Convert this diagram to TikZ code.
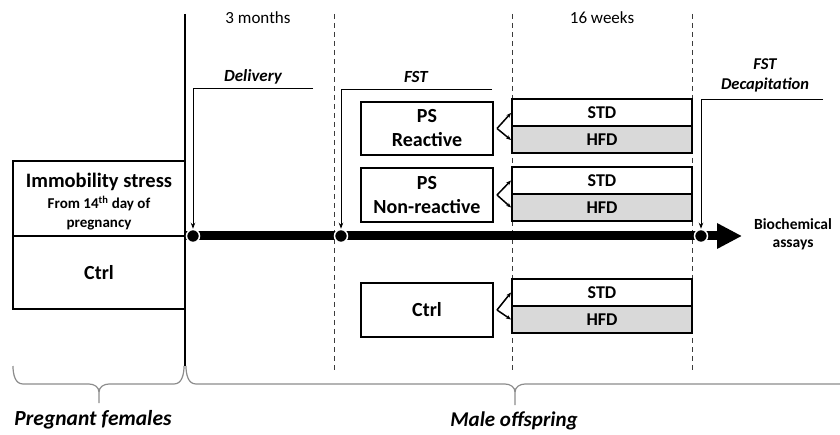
\documentclass[tikz,border=0pt]{standalone}
\usepackage{fontspec}
\setmainfont{Carlito}
\usetikzlibrary{arrows.meta,calc}
\definecolor{hfdgray}{RGB}{217,217,217}
\definecolor{dashgray}{RGB}{60,60,60}
\definecolor{bracegray}{RGB}{140,140,140}
\begin{document}
\begin{tikzpicture}[x=1pt,y=-1pt,
  box/.style={draw, line width=2pt, minimum width=132pt, minimum height=53pt, inner sep=0pt, align=center, font=\bfseries\fontsize{20}{24}\selectfont},
  diet/.style={draw, line width=2pt, minimum width=180pt, minimum height=27pt, inner sep=0pt, font=\bfseries\fontsize{18}{20}\selectfont},
  hfd/.style={diet, fill=hfdgray},
  lbl/.style={inner sep=0pt, font=\bfseries\itshape\fontsize{17}{20}\selectfont},
  bigl/.style={inner sep=0pt, font=\bfseries\itshape\fontsize{21.5}{24}\selectfont},
  period/.style={inner sep=0pt, font=\fontsize{17}{20}\selectfont},
  dot/.style={circle, fill=black, draw=white, line width=1.5pt, minimum size=13pt, inner sep=0pt},
  guide/.style={draw=dashgray, line width=1pt, dash pattern=on 5pt off 4pt},
  pointer/.style={line width=1pt, -{Stealth[length=6pt,width=4.5pt]}},
  branch/.style={line width=1.5pt, -{Stealth[length=5pt,width=4pt]}},
  brace/.style={draw=bracegray, line width=1.2pt},
]
\useasboundingbox (0,0) rectangle (840,435);

% guides
\coordinate (g1t) at (334,14); \coordinate (g1b) at (334,373);
\coordinate (g2t) at (512,14); \coordinate (g2b) at (512,373);
\coordinate (g3t) at (692,14); \coordinate (g3b) at (692,373);
\draw[guide] (g1t) -- (g1b);
\draw[guide] (g2t) -- (g2b);
\draw[guide] (g3t) -- (g3b);
\coordinate (vt) at (185,14); \coordinate (vb) at (185,366);
\draw[line width=1.2pt] (vt) -- (vb);

% period labels
\node[period] (m3) at (258,18) {3 months};
\node[period] (w16) at (602,18) {16 weeks};

% pregnant female boxes
\node[draw, line width=2pt, minimum width=172pt, minimum height=75pt, inner sep=0pt] (stress) at (99,198.5) {};
\node[draw, line width=2pt, minimum width=172pt, minimum height=73pt, inner sep=0pt, font=\bfseries\fontsize{20}{24}\selectfont] (ctrlA) at (99,272.5) {Ctrl};
\node[inner sep=0pt, font=\bfseries\fontsize{20.5}{24}\selectfont] (stresst) at (99,182) {Immobility stress};
\node[inner sep=0pt, align=center, font=\bfseries\fontsize{15}{19}\selectfont] (stresss) at (99,213) {From 14\textsuperscript{th} day of\\pregnancy};

% timeline
\coordinate (tl0) at (185,236);
\coordinate (tl1) at (742,236);
\draw[line width=9pt, -{Triangle[length=25pt,width=24pt]}] (tl0) -- (tl1);
\node[dot] (c1) at (193,236) {};
\node[dot] (c2) at (341,236) {};
\node[dot] (c3) at (701,236) {};

% event pointers
\coordinate (dlv) at (313,89);
\coordinate (fst) at (492,90);
\coordinate (dec) at (823,100);
\draw[pointer] (dlv) -| (c1.north);
\draw[pointer] (fst) -| (c2.north);
\draw[pointer] (dec) -| (c3.north);
\node[lbl] (dlvl) at (253,77) {Delivery};
\node[lbl] (fstl) at (416,77) {FST};
\node[lbl, align=center, font=\bfseries\itshape\fontsize{16.5}{20}\selectfont] (decl) at (765,75) {FST\\Decapitation};
\node[inner sep=0pt, align=center, font=\bfseries\fontsize{15.5}{18}\selectfont] (bio) at (793,234) {Biochemical\\assays};

% offspring groups
\node[box] (psr) at (427,128.5) {PS\\Reactive};
\node[box, minimum height=54pt] (psn) at (427,195) {PS\\Non-reactive};
\node[box, minimum height=54pt] (ctrlB) at (427,310) {Ctrl};

\node[diet] (std1) at (602,113) {STD};
\node[hfd] (hfd1) at (602,140) {HFD};
\node[diet] (std2) at (602,180.5) {STD};
\node[hfd] (hfd2) at (602,207.5) {HFD};
\node[diet] (std3) at (602,292.5) {STD};
\node[hfd] (hfd3) at (602,319.5) {HFD};

\draw[branch] ([xshift=3pt]psr.east) -- (std1.west);
\draw[branch] ([xshift=3pt]psr.east) -- (hfd1.west);
\draw[branch] ([xshift=3pt]psn.east) -- (std2.west);
\draw[branch] ([xshift=3pt]psn.east) -- (hfd2.west);
\draw[branch] ([xshift=3pt]ctrlB.east) -- (std3.west);
\draw[branch] ([xshift=3pt]ctrlB.east) -- (hfd3.west);

% braces
\draw[brace] (13,366) to[out=-90,in=180] (23,384) -- (89,384) to[out=0,in=90] (99,392) -- (99,403);
\draw[brace] (99,392) to[out=90,in=180] (109,384) -- (174,384) to[out=0,in=-90] (184,366);
\draw[brace] (186,366) to[out=-90,in=180] (196,384) -- (505,384) to[out=0,in=90] (515,392) -- (515,405);
\draw[brace] (515,392) to[out=90,in=180] (525,384) -- (840,384);

\node[bigl] (pf) at (93,420) {Pregnant females};
\node[bigl, font=\bfseries\itshape\fontsize{21}{24}\selectfont] (mo) at (514,421) {Male offspring};
\end{tikzpicture}
\end{document}
